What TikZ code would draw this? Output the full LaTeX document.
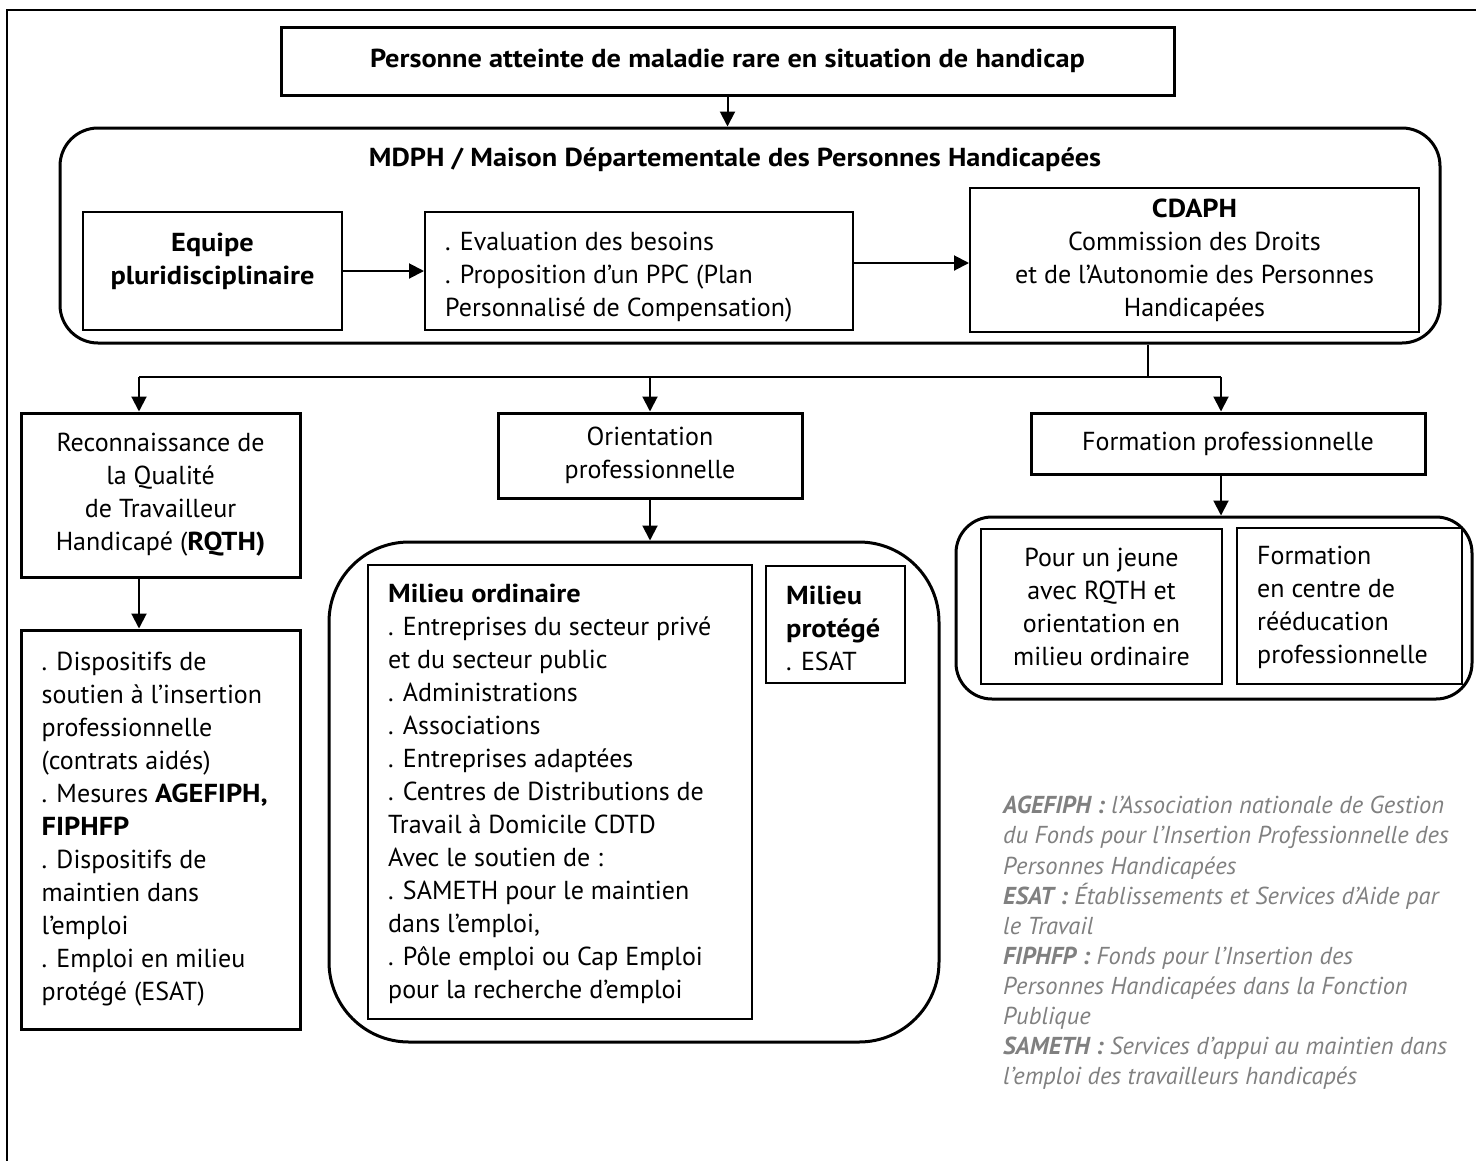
\documentclass[tikz,border=0pt]{standalone}
\usepackage{fontspec}
\setmainfont{PT Sans}[BoldFeatures={FakeStretch=1.09}]
\usetikzlibrary{arrows.meta,calc}
\begin{document}
\begin{tikzpicture}[x=1pt,y=-1pt,
  every node/.style={font=\fontsize{26}{33}\selectfont},
  thickbox/.style={draw,line width=3pt,rectangle,inner sep=0pt},
  thinbox/.style={draw,line width=2pt,rectangle,inner sep=0pt},
  txt/.style={inner sep=0pt},
  arr/.style={line width=2pt,-{Triangle[length=15pt,width=15pt]}},
  conn/.style={line width=2pt}]
\useasboundingbox (0,0) rectangle (1476,1160);
% outer frame
\draw[line width=2pt] (7,1165) -- (7,10) -- (1480,10);
% top
\node[thickbox,minimum width=893pt,minimum height=68pt,font=\bfseries\fontsize{26}{33}\selectfont] (top) at (727.5,61) {Personne atteinte de maladie rare en situation de handicap};
% MDPH
\node[draw,line width=3pt,rounded corners=38pt,minimum width=1380pt,minimum height=215pt,inner sep=0pt] (mdph) at (750,235.5) {};
\node[txt,font=\bfseries\fontsize{26}{33}\selectfont] (mdpht) at (735,160) {MDPH / Maison Départementale des Personnes Handicapées};
\node[thinbox,minimum width=259pt,minimum height=118pt] (equipe) at (212.5,271) {};
\node[txt,align=center,font=\bfseries\fontsize{26}{33}\selectfont] (equipet) at (212.5,261) {Equipe\\pluridisciplinaire};
\node[thinbox,minimum width=428pt,minimum height=118pt] (eval) at (639,271) {};
\node[txt,anchor=west,align=left] (evalt) at ([xshift=21pt,yshift=-6pt]eval.west) {. Evaluation des besoins\\. Proposition d’un PPC (Plan\\Personnalisé de Compensation)};
\node[thinbox,minimum width=449pt,minimum height=144pt,align=center] (cdaph) at (1194.5,260) {\textbf{CDAPH}\\Commission des Droits\\et de l’Autonomie des Personnes\\Handicapées};
\draw[arr] (top.south) -- (top.south |- mdph.north);
\draw[arr] (equipe.east) -- (eval.west);
\draw[arr] ([yshift=8pt]eval.east) -- ([yshift=8pt]eval.east -| cdaph.west);
% branching
\coordinate (split) at (1148,377);
\coordinate (bl) at (139,377);
\coordinate (br) at (1221,377);
\draw[conn] (split |- mdph.south) -- (split);
\draw[conn] (bl) -- (br);
% level 2
\node[thickbox,minimum width=279pt,minimum height=164pt,align=center] (rqth) at (160.5,495) {Reconnaissance de\\la Qualité\\de Travailleur\\Handicapé (\textbf{RQTH)}};
\node[thickbox,minimum width=304pt,minimum height=85pt,align=center] (orient) at (650,455.5) {Orientation\\professionnelle};
\node[thickbox,minimum width=394pt,minimum height=61pt] (form) at (1228,443.5) {Formation professionnelle};
\draw[arr] (bl) -- (bl |- rqth.north);
\draw[arr] (orient.north |- bl) -- (orient.north);
\draw[arr] (br) -- (br |- form.north);
% level 3
\node[thickbox,minimum width=279pt,minimum height=399pt] (disp) at (160.5,829.5) {};
\node[txt,anchor=west,align=left] (dispt) at ([xshift=22pt]disp.west) {. Dispositifs de\\soutien à l’insertion\\professionnelle\\(contrats aidés)\\. Mesures \textbf{AGEFIPH,}\\\textbf{FIPHFP}\\. Dispositifs de\\maintien dans\\l’emploi\\. Emploi en milieu\\protégé (ESAT)};
\draw[arr] (bl |- rqth.south) -- (bl |- disp.north);
\node[draw,line width=3pt,rounded corners=80pt,minimum width=610pt,minimum height=500pt,inner sep=0pt] (bigr) at (634,792) {};
\node[thinbox,minimum width=384pt,minimum height=454pt] (ordin) at (560,792) {};
\node[txt,anchor=west,align=left] (ordint) at ([xshift=21pt,yshift=-2pt]ordin.west) {\textbf{Milieu ordinaire}\\. Entreprises du secteur privé\\et du secteur public\\. Administrations\\. Associations\\. Entreprises adaptées\\. Centres de Distributions de\\Travail à Domicile CDTD\\Avec le soutien de :\\. SAMETH pour le maintien\\dans l’emploi,\\. Pôle emploi ou Cap Emploi\\pour la recherche d’emploi};
\node[thinbox,minimum width=139pt,minimum height=117pt] (prot) at (835.5,624.5) {};
\node[txt,anchor=west,align=left] (prott) at ([xshift=21pt,yshift=-4pt]prot.west) {\textbf{Milieu}\\\textbf{protégé}\\. ESAT};
\draw[arr] (orient.south) -- (orient.south |- bigr.north);
\node[draw,line width=3pt,rounded corners=36pt,minimum width=516pt,minimum height=182pt,inner sep=0pt] (rightr) at (1214,608) {};
\node[thinbox,minimum width=241pt,minimum height=155pt,align=center] (jeune) at (1101.5,606.5) {Pour un jeune\\avec RQTH et\\orientation en\\milieu ordinaire};
\node[thinbox,minimum width=225pt,minimum height=156pt] (centre) at (1349.5,606) {};
\node[txt,anchor=west,align=left] (centret) at ([xshift=21pt,yshift=-1pt]centre.west) {Formation\\en centre de\\rééducation\\professionnelle};
\draw[arr] (br |- form.south) -- (br |- rightr.north);
% legend
\node[txt,anchor=west,align=left,text=black!50,font=\itshape\fontsize{24.5}{30.1}\selectfont] (legend) at (1003,943) {\textbf{AGEFIPH :} l’Association nationale de Gestion\\du Fonds pour l’Insertion Professionnelle des\\Personnes Handicapées\\\textbf{ESAT :} Établissements et Services d’Aide par\\le Travail\\\textbf{FIPHFP :} Fonds pour l’Insertion des\\Personnes Handicapées dans la Fonction\\Publique\\\textbf{SAMETH :} Services d’appui au maintien dans\\l’emploi des travailleurs handicapés};
\end{tikzpicture}
\end{document}
